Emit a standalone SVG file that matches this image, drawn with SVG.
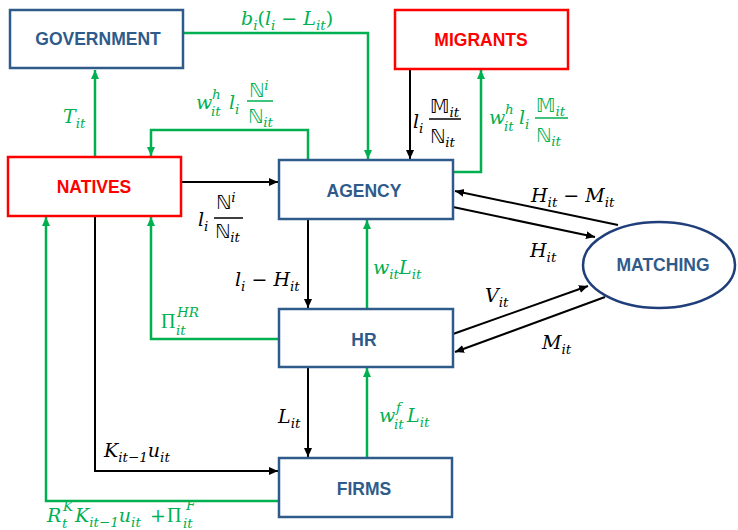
<svg xmlns="http://www.w3.org/2000/svg" width="738" height="530" viewBox="0 0 738 530">
<style>
.box{fill:#fff;stroke:#2F5B8B;stroke-width:2.5}
.rbox{fill:#fff;stroke:#FF0000;stroke-width:2.5}
.bt{font-family:"Liberation Sans",Arial,sans-serif;font-weight:bold;font-size:17.5px;fill:#2F5B8B;text-anchor:middle}
.rt{font-family:"Liberation Sans",Arial,sans-serif;font-weight:bold;font-size:17.5px;fill:#FF0000;text-anchor:middle}
.k{fill:none;stroke:#000;stroke-width:2}
.g{fill:none;stroke:#00B050;stroke-width:2.5}
.m{font-family:"DejaVu Serif","Liberation Serif",serif;font-style:italic;font-size:19px}
.mk{fill:#000}
.mg{fill:#00B050}
.s{font-size:13.5px}
.bb{font-family:"DejaVu Sans",sans-serif;font-style:normal}
.up{font-style:normal}
.pi{font-family:"Liberation Serif",serif;font-style:normal;font-size:20px}
</style>
<defs>
<marker id="ak" markerWidth="10" markerHeight="10" refX="9" refY="5" orient="auto" markerUnits="userSpaceOnUse"><path d="M0,1 L9,5 L0,9 z" fill="#000"/></marker>
<marker id="ag" markerWidth="10" markerHeight="10" refX="9" refY="5" orient="auto" markerUnits="userSpaceOnUse"><path d="M0,1 L9,5 L0,9 z" fill="#00B050"/></marker>
</defs>

<g id="connectors">
<path class="g" d="M95,157 V70" marker-end="url(#ag)"/>
<path class="g" d="M183,33 H368 V159" marker-end="url(#ag)"/>
<path class="g" d="M308,160 V130 H151 V156" marker-end="url(#ag)"/>
<path class="k" d="M410,69 V159" marker-end="url(#ak)"/>
<path class="g" d="M453,172 H481 V70" marker-end="url(#ag)"/>
<path class="k" d="M181,182 H278" marker-end="url(#ak)"/>
<path class="k" d="M308,219 V308" marker-end="url(#ak)"/>
<path class="g" d="M367,309 V220" marker-end="url(#ag)"/>
<path class="g" d="M279,339 H151 V217" marker-end="url(#ag)"/>
<path class="k" d="M95,216 V471 H278" marker-end="url(#ak)"/>
<path class="g" d="M279,501 H46 V217" marker-end="url(#ag)"/>
<path class="k" d="M308,367 V457" marker-end="url(#ak)"/>
<path class="g" d="M367,458 V368" marker-end="url(#ag)"/>
<path class="k" d="M618,225 L455,191" marker-end="url(#ak)"/>
<path class="k" d="M453,207 L595,237" marker-end="url(#ak)"/>
<path class="k" d="M453,334 L588,286" marker-end="url(#ak)"/>
<path class="k" d="M605,297 L455,352" marker-end="url(#ak)"/>

<!-- labels -->
<text class="m mg" x="63" y="123">T<tspan class="s" dy="5">it</tspan></text>
<text class="m mg" x="241" y="25">b<tspan class="s" dy="5">i</tspan><tspan class="up" dy="-5">(</tspan>l<tspan class="s" dy="5">i</tspan><tspan class="up" dy="-5"> − </tspan>L<tspan class="s" dy="5">it</tspan><tspan class="up" dy="-5">)</tspan></text>

<g class="m mg">
<text x="196" y="109">w</text>
<text class="s" x="212" y="99">h</text>
<text class="s" x="211" y="116">it</text>
<text x="229" y="109">l<tspan class="s" dy="5">i</tspan></text>
<text x="249" y="97"><tspan class="bb">ℕ</tspan><tspan class="s" dy="-7">i</tspan></text>
<text x="248" y="123"><tspan class="bb">ℕ</tspan><tspan class="s" dy="4">it</tspan></text>
</g>
<path d="M247,101 H273" stroke="#00B050" stroke-width="1.5"/>

<g class="m mk">
<text x="413" y="128">l<tspan class="s" dy="5">i</tspan></text>
<text x="430" y="113"><tspan class="bb">𝕄</tspan><tspan class="s" dy="4">it</tspan></text>
<text x="430" y="143"><tspan class="bb">ℕ</tspan><tspan class="s" dy="4">it</tspan></text>
</g>
<path d="M429,119 H461" stroke="#000" stroke-width="1.5"/>

<g class="m mg">
<text x="489" y="124">w</text>
<text class="s" x="505" y="114">h</text>
<text class="s" x="504" y="131">it</text>
<text x="519" y="124">l<tspan class="s" dy="5">i</tspan></text>
<text x="536" y="112"><tspan class="bb">𝕄</tspan><tspan class="s" dy="4">it</tspan></text>
<text x="536" y="142"><tspan class="bb">ℕ</tspan><tspan class="s" dy="4">it</tspan></text>
</g>
<path d="M535,118 H568" stroke="#00B050" stroke-width="1.5"/>

<g class="m mk">
<text x="198" y="226">l<tspan class="s" dy="5">i</tspan></text>
<text x="216" y="209"><tspan class="bb">ℕ</tspan><tspan class="s" dy="-7">i</tspan></text>
<text x="215" y="238"><tspan class="bb">ℕ</tspan><tspan class="s" dy="4">it</tspan></text>
</g>
<path d="M214,218 H243" stroke="#000" stroke-width="1.5"/>

<text class="m mk" x="235" y="286">l<tspan class="s" dy="5">i</tspan><tspan class="up" dy="-5"> − </tspan>H<tspan class="s" dy="5">it</tspan></text>
<text class="m mg" x="373" y="274">w<tspan class="s" dy="5">it</tspan><tspan dy="-5">L</tspan><tspan class="s" dy="5">it</tspan></text>
<text class="m mk" x="531" y="202">H<tspan class="s" dy="5">it</tspan><tspan class="up" dy="-5"> − </tspan>M<tspan class="s" dy="5">it</tspan></text>
<text class="m mk" x="530" y="257">H<tspan class="s" dy="5">it</tspan></text>
<text class="m mk" x="485" y="302">V<tspan class="s" dy="5">it</tspan></text>
<text class="m mk" x="542" y="349">M<tspan class="s" dy="5">it</tspan></text>

<g class="m mg">
<text class="pi" x="161" y="328">Π</text>
<text class="s" x="177" y="317">HR</text>
<text class="s" x="176" y="335">it</text>
</g>

<text class="m mk" x="104" y="457">K<tspan class="s" dy="5">it−1</tspan><tspan dy="-5">u</tspan><tspan class="s" dy="5">it</tspan></text>
<text class="m mk" x="278" y="423">L<tspan class="s" dy="5">it</tspan></text>

<g class="m mg">
<text x="379" y="422">w</text>
<text class="s" x="396" y="412">f</text>
<text class="s" x="394" y="429">it</text>
<text x="407" y="422">L<tspan class="s" dy="5">it</tspan></text>
</g>

<g class="m mg">
<text x="47" y="522">R</text>
<text class="s" x="63" y="511">K</text>
<text class="s" x="62" y="528">t</text>
<text x="75" y="522">K<tspan class="s" dy="5">it−1</tspan><tspan dy="-5">u</tspan><tspan class="s" dy="5">it</tspan></text>
<text class="up" x="150" y="522">+</text>
<text class="pi" x="167" y="522">Π</text>
<text class="s" x="186" y="510">F</text>
<text class="s" x="183" y="528">it</text>
</g>
</g>

<g id="government"><rect class="box" x="10" y="10" width="173" height="58"/><text class="bt" x="98" y="45">GOVERNMENT</text></g>
<g id="migrants"><rect class="rbox" x="395" y="10" width="173" height="59"/><text class="rt" x="481" y="46">MIGRANTS</text></g>
<g id="natives"><rect class="rbox" x="8" y="157" width="173" height="59"/><text class="rt" x="94" y="193">NATIVES</text></g>
<g id="agency"><rect class="box" x="279" y="160" width="174" height="59"/><text class="bt" x="364" y="197">AGENCY</text></g>
<g id="hr"><rect class="box" x="279" y="309" width="174" height="58"/><text class="bt" x="364" y="346">HR</text></g>
<g id="firms"><rect class="box" x="279" y="458" width="173" height="59"/><text class="bt" x="364" y="495">FIRMS</text></g>
<g id="matching"><ellipse cx="659" cy="265" rx="76" ry="43" fill="#fff" stroke="#203F7A" stroke-width="2.5"/><text class="bt" x="663" y="271">MATCHING</text></g>
</svg>
